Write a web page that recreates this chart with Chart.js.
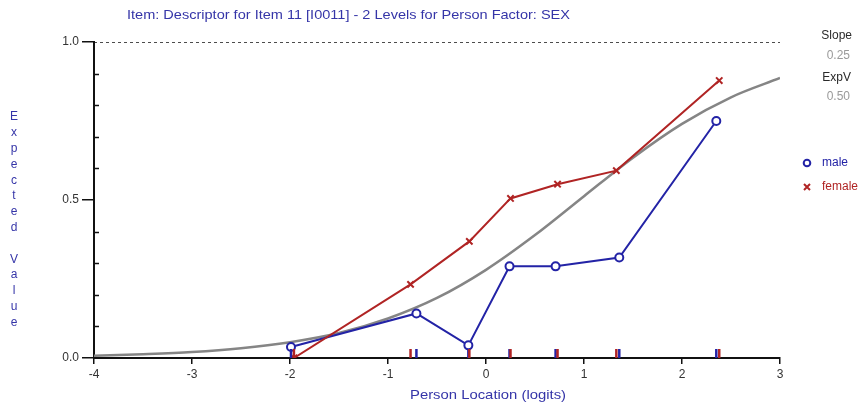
<!DOCTYPE html>
<html>
<head>
<meta charset="utf-8">
<script src="https://cdn.jsdelivr.net/npm/chart.js@4.4.1/dist/chart.umd.min.js"></script>
<style>
  html, body { margin: 0; padding: 0; background: #fff; }
  #wrap { width: 866px; height: 408px; }
</style>
</head>
<body>
<div id="wrap"><canvas id="c" width="866" height="408"></canvas></div>
<script>
// Observed mean scores per class interval, by person factor SEX
const maleX   = [-1.99, -0.71, -0.18, 0.24, 0.71, 1.36, 2.35];
const maleY   = [0.035, 0.141, 0.040, 0.290, 0.290, 0.318, 0.750];
const femaleX = [-1.96, -0.77, -0.17, 0.25, 0.73, 1.33, 2.38];
const femaleY = [0.000, 0.233, 0.369, 0.505, 0.550, 0.593, 0.878];

// Expected value curve (item characteristic curve)
const iccX = [-4, -3.5, -3, -2.5, -2, -1.5, -1, -0.5, 0, 0.5, 1, 1.5, 2, 2.5, 3];
const iccY = [0.007, 0.012, 0.019, 0.031, 0.050, 0.079, 0.125, 0.190, 0.279, 0.389, 0.512, 0.634, 0.741, 0.825, 0.886];

// Upper asymptote reference line
const topX = [-4, 3];
const topY = [1, 1];

// Axis tick values
const xTicks = [-4, -3, -2, -1, 0, 1, 2, 3];
const yMajor = [0, 0.5, 1];

const titleText = 'Item: Descriptor for Item 11 [I0011] - 2 Levels for Person Factor: SEX';
const xTitle = 'Person Location (logits)';
const yTitle = 'Expected Value';

const BLUE = '#2323a6';
const RED = '#b02424';
const GRAY = '#858585';
const TEXT_BLUE = '#3535a8';

const pts = (xs, ys) => xs.map((x, i) => ({ x: x, y: ys[i] }));

// Draws the text blocks, vertical axis title, minor ticks, rug marks and legend
const decor = {
  id: 'decor',
  afterDatasetsDraw(chart) {
    const ctx = chart.ctx;
    const xs = chart.scales.x, ys = chart.scales.y;
    const ca = chart.chartArea;
    ctx.save();

    // minor ticks on the inner side of the y axis
    ctx.strokeStyle = '#111';
    ctx.lineWidth = 1.5;
    for (let k = 1; k < 10; k++) {
      if (k === 5) continue;
      const py = Math.round(ys.getPixelForValue(k / 10)) + 0.5;
      ctx.beginPath();
      ctx.moveTo(ca.left, py);
      ctx.lineTo(ca.left + 5, py);
      ctx.stroke();
    }

    // rug marks at the class interval locations
    const base = ys.getPixelForValue(0);
    const rug = (arr, col) => {
      ctx.strokeStyle = col;
      ctx.lineWidth = 2.5;
      arr.forEach(v => {
        const px = xs.getPixelForValue(v);
        ctx.beginPath();
        ctx.moveTo(px, base);
        ctx.lineTo(px, base - 9);
        ctx.stroke();
      });
    };
    rug(maleX, BLUE);
    rug(femaleX, RED);
    ctx.restore();
  },
  afterDraw(chart) {
    const ctx = chart.ctx;
    ctx.save();
    ctx.textBaseline = 'middle';

    // title
    ctx.font = '13px "Liberation Sans", Arial, sans-serif';
    ctx.fillStyle = TEXT_BLUE;
    ctx.textAlign = 'left';
    const tw = ctx.measureText(titleText).width;
    ctx.save();
    ctx.translate(127, 15);
    ctx.scale(443 / tw, 1);
    ctx.fillText(titleText, 0, 0);
    ctx.restore();

    // x axis title
    ctx.font = '13px "Liberation Sans", Arial, sans-serif';
    const xw = ctx.measureText(xTitle).width;
    ctx.save();
    ctx.translate(410, 395);
    ctx.scale(156 / xw, 1);
    ctx.fillText(xTitle, 0, 0);
    ctx.restore();

    // y axis title, letters stacked vertically
    ctx.font = '12px "Liberation Sans", Arial, sans-serif';
    ctx.textAlign = 'center';
    yTitle.split('').forEach((ch, i) => {
      ctx.fillText(ch, 14, 117 + i * 15.8);
    });

    // slope and expected value readout
    ctx.font = '12px "Liberation Sans", Arial, sans-serif';
    ctx.textAlign = 'right';
    ctx.fillStyle = '#2a2a2a';
    ctx.fillText('Slope', 852, 36);
    ctx.fillText('ExpV', 851, 78);
    ctx.fillStyle = '#9a9a9a';
    ctx.fillText('0.25', 850, 56);
    ctx.fillText('0.50', 850, 97);

    // legend
    ctx.textAlign = 'left';
    ctx.lineWidth = 2;
    ctx.strokeStyle = BLUE;
    ctx.beginPath();
    ctx.arc(807, 163, 3.3, 0, Math.PI * 2);
    ctx.stroke();
    ctx.fillStyle = BLUE;
    ctx.fillText('male', 822, 163);
    ctx.strokeStyle = RED;
    ctx.beginPath();
    ctx.moveTo(804, 184); ctx.lineTo(810, 190);
    ctx.moveTo(810, 184); ctx.lineTo(804, 190);
    ctx.stroke();
    ctx.fillStyle = RED;
    ctx.fillText('female', 822, 187);

    ctx.restore();
  }
};

new Chart(document.getElementById('c'), {
  type: 'scatter',
  data: {
    datasets: [
      {
        label: 'female',
        data: pts(femaleX, femaleY),
        showLine: true,
        borderColor: RED,
        backgroundColor: RED,
        borderWidth: 2,
        pointStyle: 'crossRot',
        pointRadius: 4.5,
        pointBorderWidth: 2,
        order: 0
      },
      {
        label: 'male',
        data: pts(maleX, maleY),
        showLine: true,
        borderColor: BLUE,
        backgroundColor: '#ffffff',
        borderWidth: 2,
        pointStyle: 'circle',
        pointRadius: 4,
        pointBorderWidth: 2,
        order: 1
      },
      {
        label: 'ExpV',
        data: pts(iccX, iccY),
        showLine: true,
        borderColor: GRAY,
        borderWidth: 2.5,
        pointRadius: 0,
        cubicInterpolationMode: 'monotone',
        order: 2
      },
      {
        label: 'max',
        data: pts(topX, topY),
        showLine: true,
        borderColor: '#111',
        borderWidth: 1.5,
        borderDash: [3, 3],
        pointRadius: 0,
        order: 3
      }
    ]
  },
  options: {
    responsive: false,
    animation: false,
    layout: { padding: { left: 0, top: 42, right: 86, bottom: 0 } },
    plugins: {
      legend: { display: false },
      title: { display: false },
      tooltip: { enabled: false }
    },
    scales: {
      x: {
        type: 'linear',
        min: -4, max: 3,
        afterBuildTicks: s => { s.ticks = xTicks.map(v => ({ value: v })); },
        afterFit: s => { s.height = 50; },
        grid: { drawOnChartArea: false, drawTicks: true, tickLength: 6, color: '#111', lineWidth: 1.5 },
        border: { display: true, color: '#111', width: 2 },
        ticks: {
          color: '#333',
          font: { family: '"Liberation Sans", Arial, sans-serif', size: 12 },
          padding: 3,
          maxRotation: 0
        }
      },
      y: {
        type: 'linear',
        min: 0, max: 1,
        afterBuildTicks: s => { s.ticks = yMajor.map(v => ({ value: v })); },
        afterFit: s => { s.width = 94; },
        grid: { drawOnChartArea: false, drawTicks: true, tickLength: 12, color: '#111', lineWidth: 1.5 },
        border: { display: true, color: '#111', width: 2 },
        ticks: {
          color: '#333',
          font: { family: '"Liberation Sans", Arial, sans-serif', size: 12 },
          padding: 3,
          callback: v => v.toFixed(1)
        }
      }
    }
  },
  plugins: [decor]
});
</script>
</body>
</html>
